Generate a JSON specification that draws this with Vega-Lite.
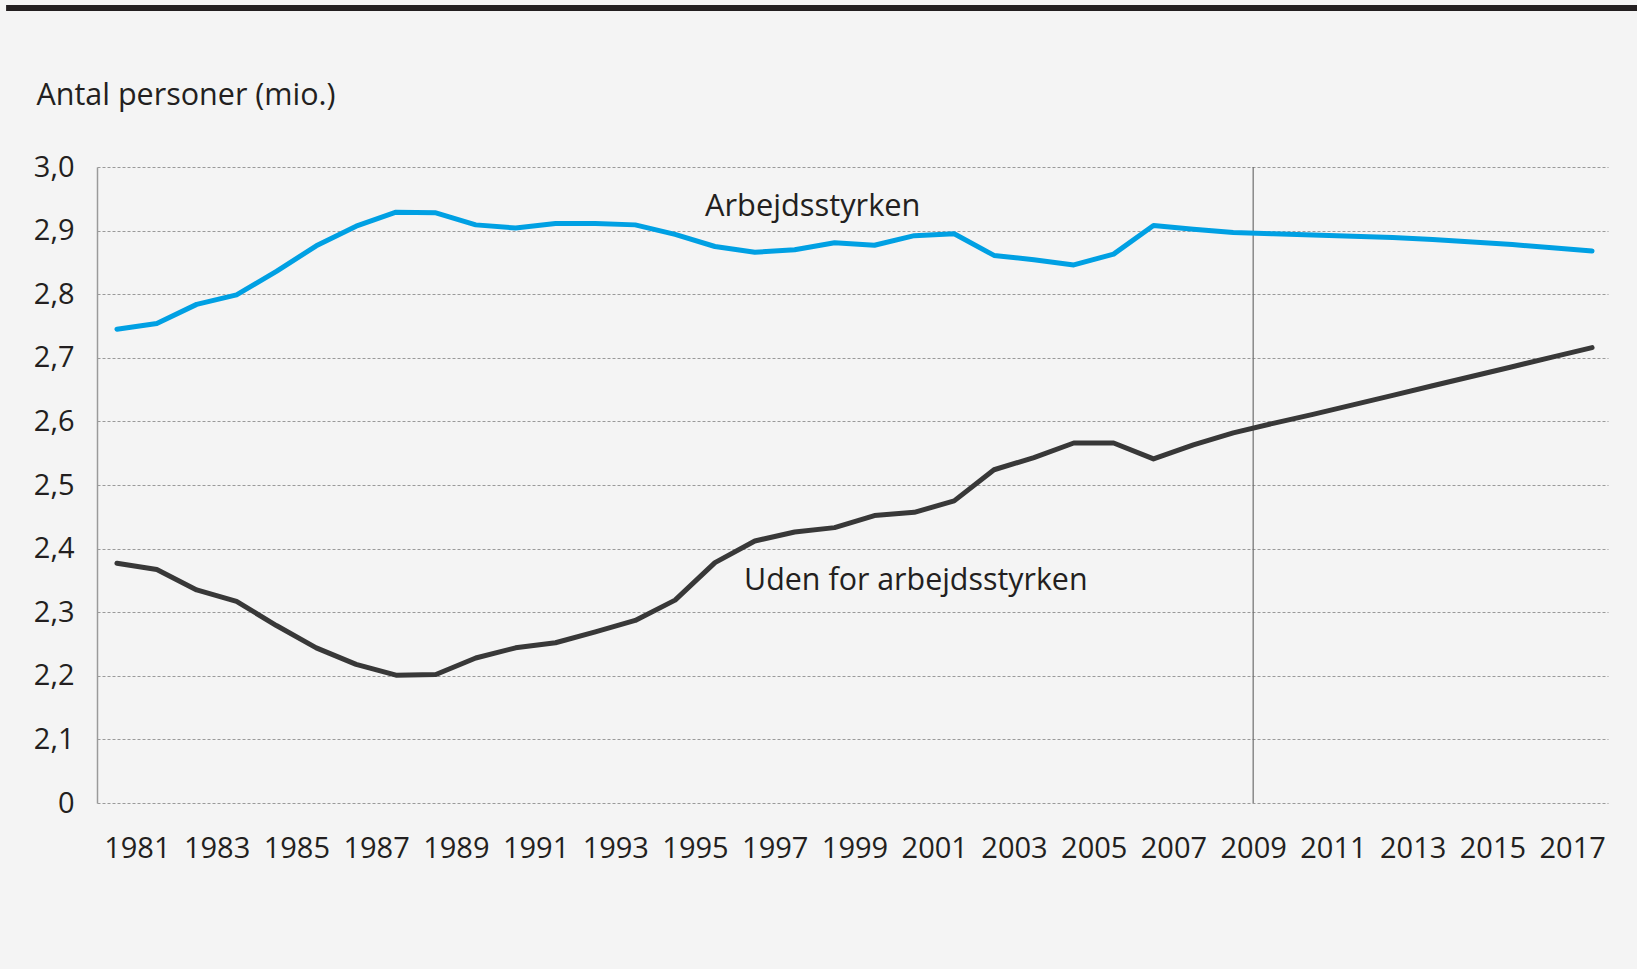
{
  "$schema": "https://vega.github.io/schema/vega-lite/v6.json",
  "autosize": {"type": "none"},
  "padding": {"left": 97, "top": 167, "right": 29, "bottom": 166},
  "width": 1511,
  "height": 636,
  "background": "#f4f4f4",
  "config": {
    "view": {"stroke": null},
    "font": "Open Sans",
    "text": {"font": "Open Sans"}
  },
  "datasets": {
    "series": [
      {"year": 1981, "series": "Arbejdsstyrken", "value": 2.745},
      {"year": 1982, "series": "Arbejdsstyrken", "value": 2.754},
      {"year": 1983, "series": "Arbejdsstyrken", "value": 2.784},
      {"year": 1984, "series": "Arbejdsstyrken", "value": 2.799},
      {"year": 1985, "series": "Arbejdsstyrken", "value": 2.836},
      {"year": 1986, "series": "Arbejdsstyrken", "value": 2.876},
      {"year": 1987, "series": "Arbejdsstyrken", "value": 2.907},
      {"year": 1988, "series": "Arbejdsstyrken", "value": 2.929},
      {"year": 1989, "series": "Arbejdsstyrken", "value": 2.928},
      {"year": 1990, "series": "Arbejdsstyrken", "value": 2.909},
      {"year": 1991, "series": "Arbejdsstyrken", "value": 2.904},
      {"year": 1992, "series": "Arbejdsstyrken", "value": 2.911},
      {"year": 1993, "series": "Arbejdsstyrken", "value": 2.911},
      {"year": 1994, "series": "Arbejdsstyrken", "value": 2.909},
      {"year": 1995, "series": "Arbejdsstyrken", "value": 2.894},
      {"year": 1996, "series": "Arbejdsstyrken", "value": 2.875},
      {"year": 1997, "series": "Arbejdsstyrken", "value": 2.866},
      {"year": 1998, "series": "Arbejdsstyrken", "value": 2.870},
      {"year": 1999, "series": "Arbejdsstyrken", "value": 2.881},
      {"year": 2000, "series": "Arbejdsstyrken", "value": 2.877},
      {"year": 2001, "series": "Arbejdsstyrken", "value": 2.892},
      {"year": 2002, "series": "Arbejdsstyrken", "value": 2.895},
      {"year": 2003, "series": "Arbejdsstyrken", "value": 2.861},
      {"year": 2004, "series": "Arbejdsstyrken", "value": 2.854},
      {"year": 2005, "series": "Arbejdsstyrken", "value": 2.846},
      {"year": 2006, "series": "Arbejdsstyrken", "value": 2.863},
      {"year": 2007, "series": "Arbejdsstyrken", "value": 2.908},
      {"year": 2008, "series": "Arbejdsstyrken", "value": 2.902},
      {"year": 2009, "series": "Arbejdsstyrken", "value": 2.897},
      {"year": 2010, "series": "Arbejdsstyrken", "value": 2.895},
      {"year": 2011, "series": "Arbejdsstyrken", "value": 2.893},
      {"year": 2012, "series": "Arbejdsstyrken", "value": 2.891},
      {"year": 2013, "series": "Arbejdsstyrken", "value": 2.889},
      {"year": 2014, "series": "Arbejdsstyrken", "value": 2.886},
      {"year": 2015, "series": "Arbejdsstyrken", "value": 2.882},
      {"year": 2016, "series": "Arbejdsstyrken", "value": 2.878},
      {"year": 2017, "series": "Arbejdsstyrken", "value": 2.873},
      {"year": 2018, "series": "Arbejdsstyrken", "value": 2.868},
      {"year": 1981, "series": "Uden for arbejdsstyrken", "value": 2.377},
      {"year": 1982, "series": "Uden for arbejdsstyrken", "value": 2.367},
      {"year": 1983, "series": "Uden for arbejdsstyrken", "value": 2.335},
      {"year": 1984, "series": "Uden for arbejdsstyrken", "value": 2.317},
      {"year": 1985, "series": "Uden for arbejdsstyrken", "value": 2.279},
      {"year": 1986, "series": "Uden for arbejdsstyrken", "value": 2.244},
      {"year": 1987, "series": "Uden for arbejdsstyrken", "value": 2.218},
      {"year": 1988, "series": "Uden for arbejdsstyrken", "value": 2.201},
      {"year": 1989, "series": "Uden for arbejdsstyrken", "value": 2.202},
      {"year": 1990, "series": "Uden for arbejdsstyrken", "value": 2.228},
      {"year": 1991, "series": "Uden for arbejdsstyrken", "value": 2.244},
      {"year": 1992, "series": "Uden for arbejdsstyrken", "value": 2.252},
      {"year": 1993, "series": "Uden for arbejdsstyrken", "value": 2.269},
      {"year": 1994, "series": "Uden for arbejdsstyrken", "value": 2.287},
      {"year": 1995, "series": "Uden for arbejdsstyrken", "value": 2.319},
      {"year": 1996, "series": "Uden for arbejdsstyrken", "value": 2.378},
      {"year": 1997, "series": "Uden for arbejdsstyrken", "value": 2.412},
      {"year": 1998, "series": "Uden for arbejdsstyrken", "value": 2.426},
      {"year": 1999, "series": "Uden for arbejdsstyrken", "value": 2.433},
      {"year": 2000, "series": "Uden for arbejdsstyrken", "value": 2.452},
      {"year": 2001, "series": "Uden for arbejdsstyrken", "value": 2.457},
      {"year": 2002, "series": "Uden for arbejdsstyrken", "value": 2.475},
      {"year": 2003, "series": "Uden for arbejdsstyrken", "value": 2.524},
      {"year": 2004, "series": "Uden for arbejdsstyrken", "value": 2.543},
      {"year": 2005, "series": "Uden for arbejdsstyrken", "value": 2.566},
      {"year": 2006, "series": "Uden for arbejdsstyrken", "value": 2.566},
      {"year": 2007, "series": "Uden for arbejdsstyrken", "value": 2.541},
      {"year": 2008, "series": "Uden for arbejdsstyrken", "value": 2.563},
      {"year": 2009, "series": "Uden for arbejdsstyrken", "value": 2.582},
      {"year": 2010, "series": "Uden for arbejdsstyrken", "value": 2.597},
      {"year": 2011, "series": "Uden for arbejdsstyrken", "value": 2.611},
      {"year": 2012, "series": "Uden for arbejdsstyrken", "value": 2.626},
      {"year": 2013, "series": "Uden for arbejdsstyrken", "value": 2.641},
      {"year": 2014, "series": "Uden for arbejdsstyrken", "value": 2.656},
      {"year": 2015, "series": "Uden for arbejdsstyrken", "value": 2.671},
      {"year": 2016, "series": "Uden for arbejdsstyrken", "value": 2.686},
      {"year": 2017, "series": "Uden for arbejdsstyrken", "value": 2.701},
      {"year": 2018, "series": "Uden for arbejdsstyrken", "value": 2.716}
    ],
    "one": [{}]
  },
  "layer": [
    {
      "data": {"name": "one"},
      "mark": {"type": "rule", "color": "#6e6e6e", "strokeWidth": 1.2},
      "encoding": {
        "x": {"datum": 2009.5, "type": "quantitative"}
      }
    },
    {
      "data": {"name": "series"},
      "mark": {"type": "line", "strokeWidth": 5, "strokeCap": "round", "strokeJoin": "round"},
      "encoding": {
        "x": {
          "field": "year",
          "type": "quantitative",
          "scale": {"domain": [1980.5, 2018.4], "nice": false, "zero": false},
          "axis": {
            "title": null,
            "values": [1981.5, 1983.5, 1985.5, 1987.5, 1989.5, 1991.5, 1993.5, 1995.5, 1997.5, 1999.5, 2001.5, 2003.5, 2005.5, 2007.5, 2009.5, 2011.5, 2013.5, 2015.5, 2017.5],
            "labelExpr": "format(floor(datum.value), 'd')",
            "domain": false,
            "ticks": false,
            "tickSize": 0,
            "grid": false,
            "labelFont": "Open Sans",
            "labelFontSize": 29,
            "labelColor": "#231f20",
            "labelPadding": 31,
            "labelBaseline": "top",
            "labelFlush": false,
            "labelOverlap": false
          }
        },
        "y": {
          "field": "value",
          "type": "quantitative",
          "scale": {"domain": [2.0, 3.0], "nice": false, "zero": false},
          "axis": {
            "title": "Antal personer (mio.)",
            "titleAngle": 0,
            "titleAlign": "left",
            "titleBaseline": "alphabetic",
            "titleX": -61,
            "titleY": -63,
            "titleFont": "Open Sans",
            "titleFontSize": 30.5,
            "titleFontWeight": "normal",
            "titleColor": "#231f20",
            "values": [2.0, 2.1, 2.2, 2.3, 2.4, 2.5, 2.6, 2.7, 2.8, 2.9, 3.0],
            "labelExpr": "datum.value < 2.05 ? '0' : replace(format(datum.value, '.1f'), '.', ',')",
            "domain": true,
            "domainColor": "#9a9a9a",
            "domainWidth": 1.5,
            "ticks": false,
            "tickSize": 0,
            "grid": true,
            "gridColor": "#9a9a9a",
            "gridWidth": 1,
            "gridDash": [3, 2],
            "labelFont": "Open Sans",
            "labelFontSize": 29,
            "labelColor": "#231f20",
            "labelPadding": 23,
            "labelFlush": false,
            "labelOverlap": false
          }
        },
        "color": {
          "field": "series",
          "type": "nominal",
          "scale": {"domain": ["Arbejdsstyrken", "Uden for arbejdsstyrken"], "range": ["#00a0e3", "#383838"]},
          "legend": null
        }
      }
    },
    {
      "data": {"name": "one"},
      "mark": {"type": "rect", "color": "#231f20"},
      "encoding": {
        "x": {"datum": 1978.22, "type": "quantitative"},
        "x2": {"datum": 2019.2},
        "y": {"datum": 3.2547, "type": "quantitative"},
        "y2": {"datum": 3.2453}
      }
    },
    {
      "data": {"name": "one"},
      "mark": {"type": "text", "text": "Arbejdsstyrken", "fontSize": 30.8, "color": "#231f20", "align": "left", "baseline": "alphabetic"},
      "encoding": {
        "x": {"datum": 1995.75, "type": "quantitative"},
        "y": {"datum": 2.923, "type": "quantitative"}
      }
    },
    {
      "data": {"name": "one"},
      "mark": {"type": "text", "text": "Uden for arbejdsstyrken", "fontSize": 30.4, "color": "#231f20", "align": "left", "baseline": "alphabetic"},
      "encoding": {
        "x": {"datum": 1996.73, "type": "quantitative"},
        "y": {"datum": 2.335, "type": "quantitative"}
      }
    }
  ]
}
